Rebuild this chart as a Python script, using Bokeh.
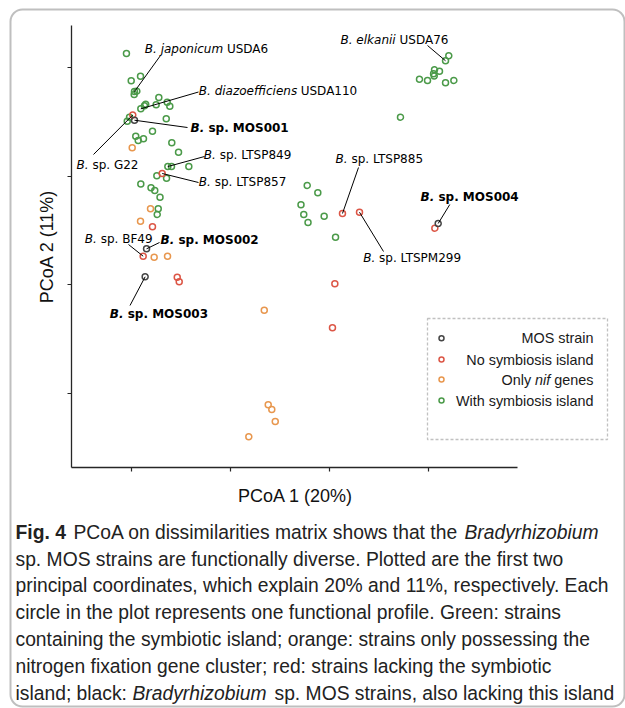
import math
from bokeh.plotting import figure
from bokeh.models import Range1d, LinearAxis, FixedTicker, Label, BoxAnnotation, ColumnDataSource
from bokeh.embed import file_html
from bokeh.resources import INLINE

# ---------------- data (PCoA coordinates) ----------------
green_x = [-0.051, -0.003, 0.091, 0.030, 0.054, 0.027, 0.276, 0.094, 0.131, 0.144, 0.249,
           0.361, 0.387, -0.043, -0.020, 0.351, 0.212, 0.043, 0.068, 0.121, 0.407, 0.475,
           0.367, 0.404, 0.579, 0.256, 0.354, 0.094, 0.197, 0.235, 0.288, 0.270, 0.260,
           3.205, 3.172, 3.061, 3.111, 3.051, 3.058, 2.909, 2.990, 3.172, 3.256, 2.717,
           1.775, 1.882, 1.712, 1.740, 1.783, 1.946, 2.061]
green_y = [3.128, 2.877, 2.919, 2.778, 2.781, 2.751, 2.723, 2.619, 2.647, 2.661, 2.656,
           2.680, 2.643, 2.505, 2.542, 2.527, 2.413, 2.367, 2.328, 2.343, 2.306, 2.220,
           2.088, 2.088, 2.088, 2.003, 1.981, 1.927, 1.892, 1.868, 1.806, 1.699, 1.647,
           3.107, 3.061, 2.978, 2.965, 2.941, 2.921, 2.891, 2.880, 2.858, 2.880, 2.542,
           1.914, 1.846, 1.736, 1.647, 1.573, 1.631, 1.438]
red_x = [0.013, 0.310, 0.212, 0.118, 0.462, 0.482, 2.131, 2.303, 3.064, 2.054, 2.030]
red_y = [2.562, 2.024, 1.534, 1.263, 1.070, 1.028, 1.656, 1.668, 1.521, 1.009, 0.604]
orange_x = [0.007, 0.192, 0.091, 0.229, 0.364, 1.341, 1.381, 1.417, 1.452, 1.185]
orange_y = [2.260, 1.699, 1.585, 1.254, 1.263, 0.766, -0.104, -0.147, -0.258, -0.398]
mos_x = [0.030, 0.152, 0.138, 3.098]
mos_y = [2.514, 1.331, 1.074, 1.564]

x_ticks = [0, 1, 2, 3]
y_ticks = [0, 1, 2, 3]

legend_labels = ["MOS strain", "No symbiosis island", "Only nif genes", "With symbiosis island"]

# ---------------- styles ----------------
GREEN = "#4b9a49"
RED = "#dc5646"
ORANGE = "#e8974e"
MOS = "#454545"
AX = "#262626"

W, H = 625, 708
# picture-pixel -> data helpers (layout only)
X0, XS = 131.0, 99.0
Y0, YS = 393.0, 108.7
def X(px):
    return (px - X0) / XS
def Y(py):
    return (Y0 - py) / YS

p = figure(width=W, height=H, output_backend="svg", toolbar_location=None,
           x_range=Range1d(X(0), X(W)), y_range=Range1d(Y(H), Y(0)),
           x_axis_type=None, y_axis_type=None, min_border=0,
           outline_line_color=None, background_fill_color="white",
           border_fill_color="white")

# axes (matplotlib-like left/bottom spines)
xax = LinearAxis(fixed_location=Y(467), bounds=(X(71), X(517)), ticker=FixedTicker(ticks=x_ticks))
yax = LinearAxis(fixed_location=X(71), bounds=(Y(467), Y(25)), ticker=FixedTicker(ticks=y_ticks))
for ax, ticks in ((xax, x_ticks), (yax, y_ticks)):
    ax.axis_line_color = AX
    ax.axis_line_width = 1.3
    ax.major_tick_line_color = AX
    ax.major_tick_line_width = 1.2
    ax.major_tick_in = 0
    ax.major_tick_out = 4
    ax.minor_tick_line_color = None
    ax.major_label_overrides = {t: "" for t in ticks}
p.add_layout(xax, "below")
p.add_layout(yax, "left")

# points
MS = 6
p.scatter(x=green_x, y=green_y, marker="circle", size=MS, fill_color=None, line_color=GREEN, line_width=1.5)
p.scatter(x=orange_x, y=orange_y, marker="circle", size=MS, fill_color=None, line_color=ORANGE, line_width=1.5)
p.scatter(x=red_x, y=red_y, marker="circle", size=MS, fill_color=None, line_color=RED, line_width=1.5)
p.scatter(x=mos_x, y=mos_y, marker="circle", size=MS, fill_color=None, line_color=MOS, line_width=1.5)

groups = {"g": (green_x, green_y), "r": (red_x, red_y), "o": (orange_x, orange_y), "m": (mos_x, mos_y)}

# annotations: (first, rest, kind, x_first, x_rest, y, line_x, line_y, group, idx)
ann = [
    ("B. japonicum", "USDA6", "sp", 144.3, 226.4, 48.7, 160, 55, "g", 3),
    ("B. diazoefficiens", "USDA110", "sp", 198.3, 300.2, 90.7, 198, 91.5, "g", 7),
    ("B.", "sp. MOS001", "bold", 190, 207.9, 127.7, 187, 127, "m", 0),
    ("B.", "sp. G22", "sp", 76, 91.9, 164, 93, 154, "r", 0),
    ("B.", "sp. LTSP849", "sp", 203.3, 219.2, 154.7, 204, 156, "g", 22),
    ("B.", "sp. LTSP857", "sp", 198.3, 214.2, 181.3, 198, 182, "r", 1),
    ("B. elkanii", "USDA76", "sp", 340, 399, 39.3, 427, 45, "g", 34),
    ("B.", "sp. LTSP885", "sp", 335, 350.9, 158.3, 358, 167, "r", 6),
    ("B.", "sp. LTSPM299", "sp", 362.7, 378.6, 257.3, 383, 251, "r", 7),
    ("B.", "sp. MOS004", "bold", 420, 437.9, 196.7, 449.3, 204, "m", 3),
    ("B.", "sp. BF49", "sp", 84.3, 100.2, 238.3, 128, 244, "r", 3),
    ("B.", "sp. MOS002", "bold", 160, 177.9, 239.7, 159, 242, "m", 1),
    ("B.", "sp. MOS003", "bold", 109.3, 127.2, 313, 129.5, 305, "m", 2),
]
seg = dict(x0=[], y0=[], x1=[], y1=[])
for first, rest, kind, xf, xr, yy, lx, ly, g, i in ann:
    gx, gy = groups[g]
    seg["x0"].append(X(lx)); seg["y0"].append(Y(ly))
    seg["x1"].append(gx[i]); seg["y1"].append(gy[i])
    st1 = "bold italic" if kind == "bold" else "italic"
    st2 = "bold" if kind == "bold" else "normal"
    p.add_layout(Label(x=X(xf), y=Y(yy), text=first, text_font="DejaVu Sans", text_font_size="12px",
                       text_font_style=st1, text_align="left", text_baseline="middle", text_color="black"))
    p.add_layout(Label(x=X(xr), y=Y(yy), text=rest, text_font="DejaVu Sans", text_font_size="12px",
                       text_font_style=st2, text_align="left", text_baseline="middle", text_color="black"))
p.segment(x0="x0", y0="y0", x1="x1", y1="y1", source=ColumnDataSource(seg), line_color="black", line_width=1)

# axis labels
p.add_layout(Label(x=X(295), y=Y(495), text="PCoA 1 (20%)", text_font="Liberation Sans",
                   text_font_size="18px", text_align="center", text_baseline="middle", text_color="#111111"))
p.add_layout(Label(x=X(46), y=Y(246), text="PCoA 2 (11%)", text_font="Liberation Sans", angle=math.pi / 2,
                   text_font_size="18px", text_align="center", text_baseline="middle", text_color="#111111"))

# legend (dashed box, markers left, labels right-aligned)
p.add_layout(BoxAnnotation(left=X(427), right=X(607), top=Y(318), bottom=Y(439), fill_alpha=0,
                           line_color="#333333", line_width=1.3, line_dash="3 2"))
leg_y = [337.7, 359, 379, 400]
leg_c = [MOS, RED, ORANGE, GREEN]
p.scatter(x=[X(441)] * 4, y=[Y(v) for v in leg_y], marker="circle", size=5, fill_color=None,
          line_color=leg_c, line_width=1.5)
LF = dict(text_font="Liberation Sans", text_font_size="14.4px", text_baseline="middle",
          text_align="right", text_color="#1a1a1a")
p.add_layout(Label(x=X(593), y=Y(leg_y[0]), text=legend_labels[0], **LF))
p.add_layout(Label(x=X(593), y=Y(leg_y[1]), text=legend_labels[1], **LF))
p.add_layout(Label(x=X(593), y=Y(leg_y[2]), text="genes", **LF))
p.add_layout(Label(x=X(549.8), y=Y(leg_y[2]), text="nif", text_font_style="italic", **LF))
p.add_layout(Label(x=X(530.6), y=Y(leg_y[2]), text="Only", **LF))
p.add_layout(Label(x=X(593), y=Y(leg_y[3]), text=legend_labels[3], **LF))

# caption
CF = dict(text_font="Liberation Sans", text_font_size="19.3px", text_baseline="middle",
          text_align="left", text_color="#222222")
cap_y = [531.7, 558.5, 585.3, 612.1, 638.9, 665.7, 692.5]
p.add_layout(Label(x=X(15), y=Y(cap_y[0]), text="Fig. 4", text_font_style="bold", **CF))
p.add_layout(Label(x=X(73), y=Y(cap_y[0]), text="PCoA on dissimilarities matrix shows that the", **CF))
p.add_layout(Label(x=X(464), y=Y(cap_y[0]), text="Bradyrhizobium", text_font_style="italic", **CF))
p.add_layout(Label(x=X(15), y=Y(cap_y[1]), text="sp. MOS strains are functionally diverse. Plotted are the first two", **CF))
p.add_layout(Label(x=X(15), y=Y(cap_y[2]), text="principal coordinates, which explain 20% and 11%, respectively. Each", **CF))
p.add_layout(Label(x=X(15), y=Y(cap_y[3]), text="circle in the plot represents one functional profile. Green: strains", **CF))
p.add_layout(Label(x=X(15), y=Y(cap_y[4]), text="containing the symbiotic island; orange: strains only possessing the", **CF))
p.add_layout(Label(x=X(15), y=Y(cap_y[5]), text="nitrogen fixation gene cluster; red: strains lacking the symbiotic", **CF))
p.add_layout(Label(x=X(15), y=Y(cap_y[6]), text="island; black:", **CF))
p.add_layout(Label(x=X(132), y=Y(cap_y[6]), text="Bradyrhizobium", text_font_style="italic", **CF))
p.add_layout(Label(x=X(274), y=Y(cap_y[6]), text="sp. MOS strains, also lacking this island", **CF))

# outer rounded frame
p.add_layout(BoxAnnotation(left=X(10), right=X(624), top=Y(9), bottom=Y(706), fill_alpha=0,
                           line_color="#2b2b2b", line_width=2, border_radius=12))

open("out.html", "w").write(file_html(p, INLINE))
